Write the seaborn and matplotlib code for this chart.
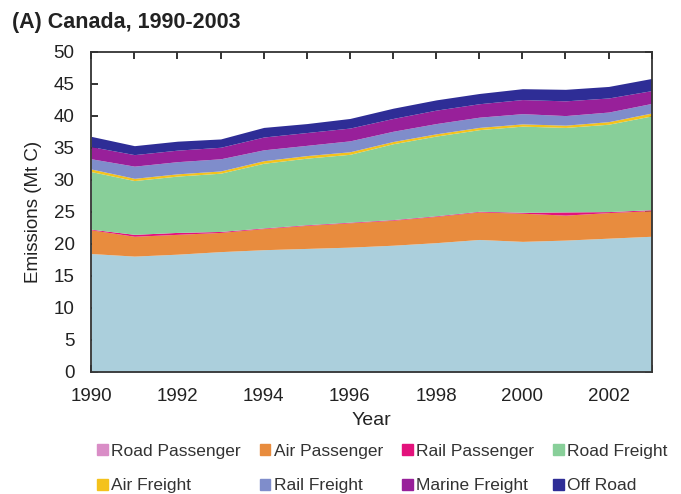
import matplotlib
matplotlib.use("Agg")
import matplotlib.pyplot as plt
import matplotlib.patches as mpatches
import seaborn as sns

years = list(range(1990, 2004))

road_passenger = [18.5, 18.1, 18.4, 18.8, 19.1, 19.3, 19.5, 19.8, 20.2, 20.7, 20.4, 20.6, 20.9, 21.2]
air_passenger = [3.7, 3.1, 3.1, 3.0, 3.3, 3.6, 3.8, 3.9, 4.1, 4.3, 4.4, 3.9, 4.0, 4.0]
rail_passenger = [0.1, 0.3, 0.3, 0.15, 0.1, 0.1, 0.1, 0.1, 0.1, 0.1, 0.15, 0.5, 0.15, 0.15]
road_freight = [9.0, 8.4, 8.8, 9.1, 10.1, 10.4, 10.6, 11.85, 12.45, 12.75, 13.45, 13.2, 13.65, 14.65]
air_freight = [0.4, 0.35, 0.35, 0.35, 0.4, 0.4, 0.4, 0.35, 0.35, 0.35, 0.35, 0.35, 0.4, 0.45]
rail_freight = [1.6, 1.9, 1.9, 1.9, 1.7, 1.6, 1.7, 1.6, 1.6, 1.6, 1.6, 1.5, 1.5, 1.5]
marine_freight = [1.9, 1.8, 1.8, 1.8, 2.0, 2.0, 2.0, 2.0, 2.1, 2.1, 2.2, 2.3, 2.2, 2.0]
off_road = [1.6, 1.4, 1.4, 1.3, 1.5, 1.4, 1.5, 1.6, 1.6, 1.6, 1.7, 1.8, 1.8, 1.9]

labels = ["Road Passenger", "Air Passenger", "Rail Passenger", "Road Freight",
          "Air Freight", "Rail Freight", "Marine Freight", "Off Road"]

# area colours (bottom band is drawn light blue in the original)
area_colors = ["#abcfdc", "#e88c3e", "#e3127c", "#88cf99",
               "#f4c21c", "#7f8dcb", "#98209a", "#2e2d96"]
# legend swatches
legend_colors = ["#d98dc6", "#e88c3e", "#e3127c", "#88cf99",
                 "#f4c21c", "#7f8dcb", "#98209a", "#2e2d96"]

sns.set_style("ticks")
plt.rcParams['font.family'] = ['Liberation Sans', 'DejaVu Sans']

fig = plt.figure(figsize=(6.81, 4.94), dpi=100)
ax = fig.add_axes([0.134, 0.247, 0.823, 0.648])

series = [road_passenger, air_passenger, rail_passenger, road_freight,
          air_freight, rail_freight, marine_freight, off_road]
ax.stackplot(years, *series, colors=area_colors, linewidth=0)

ax.set_xlim(1990, 2003)
ax.set_ylim(0, 50)
ax.set_xticks(range(1990, 2004, 2))
ax.set_xticks(range(1990, 2004), minor=True)
ax.set_yticks(range(0, 51, 5))
ax.tick_params(axis="both", which="both", direction="in", top=True, right=True,
               labelsize=13.5, color="#222222", labelcolor="#222222")
ax.tick_params(which="both", length=5, width=1.3)
ax.tick_params(axis="x", which="both", pad=11.5)
ax.tick_params(axis="y", which="both", pad=12)
for s in ax.spines.values():
    s.set_linewidth(1.3)
    s.set_color("#333333")

ax.set_xlabel("Year", fontsize=14, labelpad=5, color="#222222")
ax.set_ylabel("Emissions (Mt C)", fontsize=13.5, labelpad=8, color="#222222")

fig.text(0.018, 0.943, "(A) Canada, 1990-2003", fontsize=15.5, fontweight="bold",
         color="#222222")

# reorder so the two legend rows read across like the original
order = [0, 4, 1, 5, 2, 6, 3, 7]
handles = [mpatches.Patch(color=legend_colors[i], label=labels[i]) for i in order]
leg = fig.legend(handles=handles, loc="lower left", bbox_to_anchor=(0.12, -0.03),
                 ncol=4, frameon=False, fontsize=12.5, handlelength=0.6, handleheight=0.6,
                 handletextpad=0.2, columnspacing=1.1, labelspacing=1.1)
for t in leg.get_texts():
    t.set_color("#333333")

fig.savefig("out.png", dpi=100)
plt.close(fig)
